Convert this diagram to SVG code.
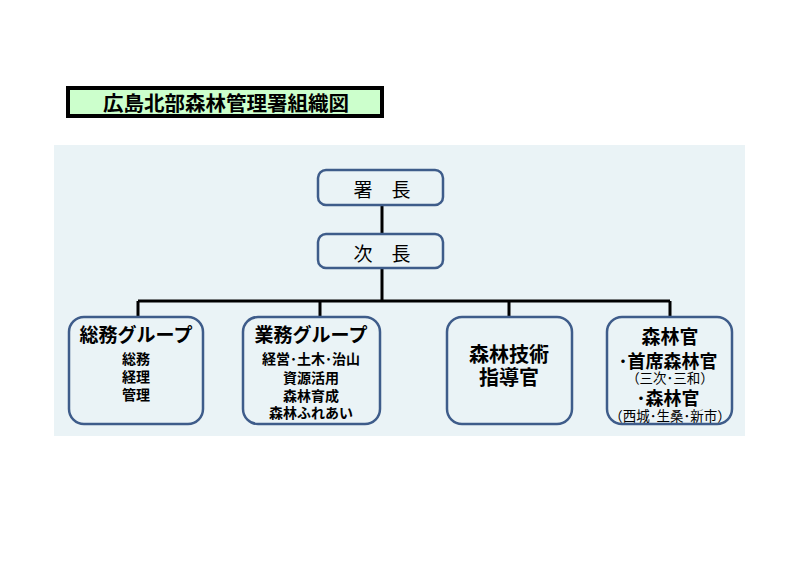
<svg xmlns="http://www.w3.org/2000/svg" width="800" height="566" viewBox="0 0 800 566">
<style>
text{font-family:"Noto Sans CJK JP","Noto Sans CJK SC",sans-serif;text-anchor:middle;dominant-baseline:central;fill:#000}
.box{fill:#EAF3F6;stroke:#3E5C8A;stroke-width:2.5}
.h{font-size:19px;font-weight:bold}
.s{font-size:14px;font-weight:bold}
.p{font-size:13.5px}
.line{stroke:#000;stroke-width:3;fill:none}
</style>
<rect width="800" height="566" fill="#fff"/>
<g id="title">
<rect x="68" y="88" width="314" height="28" fill="#CCFFCC" stroke="#000" stroke-width="4"/>
<text x="226" y="102" style="font-size:20.5px;font-weight:bold">広島北部森林管理署組織図</text>
</g>
<rect id="panel" x="54" y="145" width="691" height="291" fill="#EAF3F6"/>
<g id="connectors">
<path class="line" d="M382 205V234M382 268V301M138 301H670M138 301V317M320 301V317M509 301V317M670 301V317"/>
</g>
<g id="shochou">
<rect class="box" x="318" y="170" width="125" height="35" rx="8"/>
<text x="382" y="188" style="font-size:19px">署　長</text>
</g>
<g id="jichou">
<rect class="box" x="318" y="234" width="125" height="34" rx="8"/>
<text x="382" y="252" style="font-size:19px">次　長</text>
</g>
<g id="soumu">
<rect class="box" x="69" y="317" width="134" height="107" rx="15"/>
<text class="h" x="136" y="333">総務グループ</text>
<text class="s" x="136" y="358">総務</text>
<text class="s" x="136" y="376">経理</text>
<text class="s" x="136" y="394">管理</text>
</g>
<g id="gyoumu">
<rect class="box" x="243" y="317" width="137" height="107" rx="15"/>
<text class="h" x="311" y="333">業務グループ</text>
<text class="s" x="311" y="358">経営･土木･治山</text>
<text class="s" x="311" y="377">資源活用</text>
<text class="s" x="311" y="395">森林育成</text>
<text class="s" x="311" y="412">森林ふれあい</text>
</g>
<g id="gijutsu">
<rect class="box" x="447" y="317" width="125" height="107" rx="15"/>
<text class="h" x="509" y="353" style="font-size:20px">森林技術</text>
<text class="h" x="509" y="376" style="font-size:20px">指導官</text>
</g>
<g id="shinrinkan">
<rect class="box" x="607" y="317" width="125" height="107" rx="15"/>
<text class="h" x="670" y="335">森林官</text>
<text class="h" x="668" y="360" style="font-size:18px">･首席森林官</text>
<text class="p" x="670" y="377">（三次･三和）</text>
<text class="h" x="668" y="397" style="font-size:18px">･森林官</text>
<text class="p" x="670" y="415">（西城･生桑･新市）</text>
</g>
</svg>
